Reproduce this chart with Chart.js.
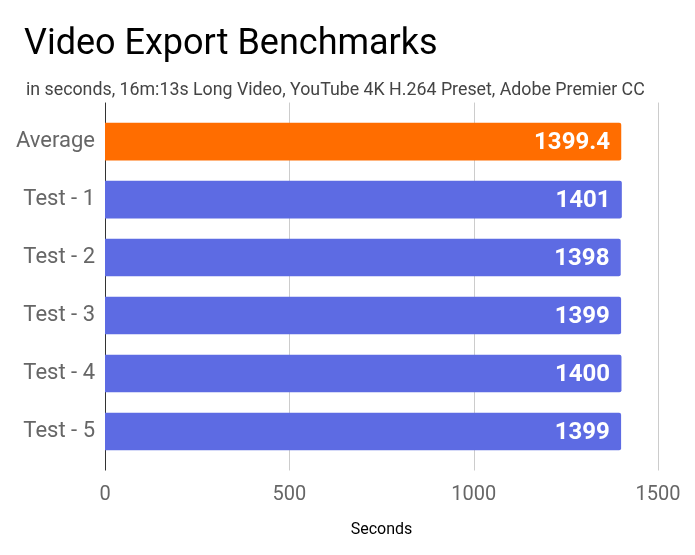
<!DOCTYPE html>
<html>
<head>
<meta charset="utf-8">
<script src="https://cdn.jsdelivr.net/npm/chart.js@4"></script>
<style>
  html, body { margin: 0; padding: 0; background: #fff; }
  #wrap { width: 695px; height: 555px; }
</style>
</head>
<body>
<div id="wrap"><canvas id="benchChart"></canvas></div>
<script>
// chart data
const runs = ['Average', 'Test - 1', 'Test - 2', 'Test - 3', 'Test - 4', 'Test - 5'];
const exportSeconds = [1399.4, 1401, 1398, 1399, 1400, 1399];
const barColors = ['#ff6d00', '#5d6be3', '#5d6be3', '#5d6be3', '#5d6be3', '#5d6be3'];
const xTicks = [0, 500, 1000, 1500];

// vertical grid lines that reach a bit past the plot area, like the original
const gridPlugin = {
    id: 'longGrid',
    beforeDatasetsDraw(chart) {
        const ctx = chart.ctx;
        const area = chart.chartArea;
        const xScale = chart.scales.x;
        ctx.save();
        ctx.lineWidth = 1;
        xTicks.forEach(function (v) {
            const px = Math.round(xScale.getPixelForValue(v)) + 0.5;
            ctx.strokeStyle = v === 0 ? '#333333' : '#cccccc';
            ctx.beginPath();
            ctx.moveTo(px, area.top - 10);
            ctx.lineTo(px, area.bottom + 10);
            ctx.stroke();
        });
        ctx.restore();
    }
};

// value labels inside the bar ends
const valuePlugin = {
    id: 'barValues',
    afterDatasetsDraw(chart) {
        const ctx = chart.ctx;
        const meta = chart.getDatasetMeta(0);
        ctx.save();
        ctx.fillStyle = '#ffffff';
        ctx.font = 'bold 24px Roboto';
        ctx.textAlign = 'right';
        ctx.textBaseline = 'middle';
        meta.data.forEach(function (bar, i) {
            ctx.fillText(String(exportSeconds[i]), bar.x - 11, bar.y + 1);
        });
        ctx.restore();
    }
};

// title + subtitle start a bit in from the canvas edge
const titleIndent = {
    id: 'titleIndent',
    afterLayout(chart) {
        chart.boxes.forEach(function (b) {
            if (b.options && typeof b.options.text === 'string' && b.options.align === 'start') {
                b.left = b.options.font.size > 30 ? 24 : 26;
            }
        });
    }
};

const ctx = document.getElementById('benchChart').getContext('2d');
new Chart(ctx, {
    type: 'bar',
    data: {
        labels: runs,
        datasets: [{
            data: exportSeconds,
            backgroundColor: barColors,
            borderRadius: 2,
            borderSkipped: 'start',
            barThickness: 37
        }]
    },
    options: {
        indexAxis: 'y',
        responsive: true,
        maintainAspectRatio: false,
        animation: false,
        layout: { padding: { left: 0, right: 37, top: 0, bottom: 0 } },
        plugins: {
            legend: { display: false },
            tooltip: { enabled: false },
            title: {
                display: true,
                text: 'Video Export Benchmarks',
                align: 'start',
                color: '#000000',
                font: { family: 'Roboto', size: 36, weight: 'normal' },
                padding: { top: 23, bottom: 14 }
            },
            subtitle: {
                display: true,
                text: 'in seconds, 16m:13s Long Video, YouTube 4K H.264 Preset, Adobe Premier CC',
                align: 'start',
                color: '#444444',
                font: { family: 'Roboto', size: 17.8 },
                padding: { top: 0, bottom: 11 }
            }
        },
        scales: {
            x: {
                min: 0,
                max: 1500,
                afterBuildTicks(scale) {
                    scale.ticks = xTicks.map(v => ({ value: v }));
                },
                afterFit(scale) {
                    scale.height = 94.5;
                    scale.paddingLeft = 0;
                    scale.paddingRight = 0;
                },
                grid: { display: false, drawTicks: false },
                border: { display: false },
                ticks: {
                    color: '#666666',
                    font: { family: 'Roboto', size: 20 },
                    padding: 22,
                    callback: v => String(v)
                },
                title: {
                    display: true,
                    text: 'Seconds',
                    color: '#000000',
                    font: { family: 'Roboto', size: 16 },
                    padding: { top: 0, bottom: 15 }
                }
            },
            y: {
                afterFit(scale) { scale.width = 105; },
                grid: { display: false, drawTicks: false },
                border: { display: false },
                ticks: {
                    color: '#666666',
                    font: { family: 'Roboto', size: 22 },
                    padding: 10
                }
            }
        }
    },
    plugins: [gridPlugin, valuePlugin, titleIndent]
});
</script>
</body>
</html>
